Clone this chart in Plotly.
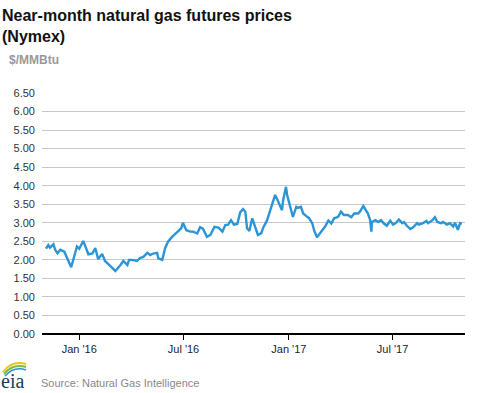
import plotly.graph_objects as go

dates = [
    "2015-11-04", "2015-11-08", "2015-11-11", "2015-11-15", "2015-11-17", "2015-11-20",
    "2015-11-24", "2015-11-29", "2015-12-06", "2015-12-18", "2015-12-28", "2016-01-01",
    "2016-01-08", "2016-01-17", "2016-01-24", "2016-01-29", "2016-02-03", "2016-02-10",
    "2016-02-15", "2016-02-24", "2016-03-04", "2016-03-13", "2016-03-18", "2016-03-25",
    "2016-03-28", "2016-04-02", "2016-04-11", "2016-04-16", "2016-04-22", "2016-04-29",
    "2016-05-04", "2016-05-09", "2016-05-16", "2016-05-18", "2016-05-25", "2016-05-30",
    "2016-06-04", "2016-06-11", "2016-06-17", "2016-06-22", "2016-06-27", "2016-06-30",
    "2016-07-06", "2016-07-13", "2016-07-18", "2016-07-25", "2016-07-30", "2016-08-04",
    "2016-08-11", "2016-08-17", "2016-08-24", "2016-08-31", "2016-09-07", "2016-09-12",
    "2016-09-17", "2016-09-22", "2016-09-27", "2016-10-03", "2016-10-08", "2016-10-13",
    "2016-10-17", "2016-10-20", "2016-10-24", "2016-10-29", "2016-10-31", "2016-11-05",
    "2016-11-08", "2016-11-14", "2016-11-17", "2016-11-24", "2016-11-29", "2016-12-05",
    "2016-12-08", "2016-12-12", "2016-12-15", "2016-12-20", "2016-12-22", "2016-12-27",
    "2016-12-29", "2017-01-03", "2017-01-08", "2017-01-14", "2017-01-17", "2017-01-22",
    "2017-01-26", "2017-02-02", "2017-02-05", "2017-02-11", "2017-02-14", "2017-02-19",
    "2017-02-23", "2017-02-28", "2017-03-05", "2017-03-11", "2017-03-16", "2017-03-21",
    "2017-03-28", "2017-04-02", "2017-04-07", "2017-04-14", "2017-04-20", "2017-04-25",
    "2017-05-02", "2017-05-05", "2017-05-11", "2017-05-16", "2017-05-19", "2017-05-23",
    "2017-05-25", "2017-05-26", "2017-06-01", "2017-06-06", "2017-06-11", "2017-06-16",
    "2017-06-21", "2017-06-27", "2017-07-02", "2017-07-07", "2017-07-12", "2017-07-18",
    "2017-07-21", "2017-07-26", "2017-08-01", "2017-08-06", "2017-08-13", "2017-08-16",
    "2017-08-23", "2017-08-29", "2017-09-01", "2017-09-08", "2017-09-13", "2017-09-17",
    "2017-09-24", "2017-09-27", "2017-10-04", "2017-10-09", "2017-10-15", "2017-10-18",
    "2017-10-22", "2017-10-23", "2017-10-27", "2017-10-30",
]
prices = [
    2.30, 2.40, 2.33, 2.40, 2.42, 2.27,
    2.18, 2.27, 2.22, 1.80, 2.36, 2.30,
    2.51, 2.15, 2.17, 2.32, 2.02, 2.16,
    1.97, 1.84, 1.70, 1.86, 1.97, 1.86,
    2.00, 2.00, 1.97, 2.05, 2.08, 2.19,
    2.13, 2.17, 2.19, 2.04, 2.00, 2.32,
    2.49, 2.62, 2.71, 2.78, 2.85, 3.00,
    2.80, 2.76, 2.76, 2.71, 2.88, 2.84,
    2.62, 2.67, 2.89, 2.87, 2.76, 2.94,
    2.95, 3.07, 2.95, 2.97, 3.28, 3.37,
    3.30, 2.85, 2.78, 3.12, 3.03, 2.77,
    2.67, 2.72, 2.86, 3.07, 3.30, 3.57,
    3.75, 3.62, 3.50, 3.34, 3.61, 3.97,
    3.75, 3.48, 3.16, 3.43, 3.40, 3.43,
    3.25, 3.16, 3.13, 2.98, 2.80, 2.61,
    2.68, 2.79, 2.89, 3.06, 2.98, 3.12,
    3.16, 3.30, 3.21, 3.21, 3.15, 3.25,
    3.25, 3.30, 3.45, 3.30, 3.25, 3.07,
    2.76, 3.02, 3.07, 3.02, 3.07, 2.98,
    2.92, 3.06, 2.95, 3.00, 3.09, 2.99,
    3.02, 2.92, 2.83, 2.88, 2.99, 2.95,
    2.99, 3.05, 2.99, 3.06, 3.15, 3.02,
    2.99, 3.02, 2.95, 2.99, 2.90, 3.00,
    2.88, 2.81, 2.99, 2.97,
]

x_tick_vals = ["2016-01-01", "2016-07-01", "2017-01-01", "2017-07-01"]
x_tick_text = ["Jan '16", "Jul '16", "Jan '17", "Jul '17"]
y_tick_vals = [0.0, 0.5, 1.0, 1.5, 2.0, 2.5, 3.0, 3.5, 4.0, 4.5, 5.0, 5.5, 6.0, 6.5]
y_tick_text = [f"{v:.2f}" for v in y_tick_vals]

title_text = "Near-month natural gas futures prices<br>(Nymex)"
unit_text = "$/MMBtu"
source_text = "Source: Natural Gas Intelligence"

fig = go.Figure()
fig.add_trace(go.Scatter(
    x=dates, y=prices, mode="lines",
    line=dict(color="#2b95d6", width=2.4),
    hoverinfo="x+y", showlegend=False,
))

fig.update_layout(
    width=477, height=393,
    margin=dict(l=42, r=12, t=93, b=59),
    paper_bgcolor="white", plot_bgcolor="white",
    font=dict(family="Liberation Sans, Arial, sans-serif", color="#333333", size=11),
    xaxis=dict(
        type="date",
        range=["2015-10-28", "2017-11-04 12:00"],
        tickvals=x_tick_vals, ticktext=x_tick_text,
        ticks="outside", ticklen=5, tickwidth=1, tickcolor="#000000",
        showgrid=False, showline=False, zeroline=False,
        tickfont=dict(size=11, color="#222233"),
    ),
    yaxis=dict(
        range=[0, 6.5],
        tickvals=y_tick_vals, ticktext=y_tick_text,
        showgrid=True, gridcolor="#c8c8c8", gridwidth=1,
        zeroline=True, zerolinecolor="#000000", zerolinewidth=1.5,
        showline=False, ticks="", ticklabelstandoff=6,
        tickfont=dict(size=11, color="#333333"),
    ),
    annotations=[
        dict(text=f"<b>{title_text}</b>", xref="paper", yref="paper",
             x=-42/423, y=1 + 88/241, xanchor="left", yanchor="top",
             showarrow=False, align="left",
             font=dict(size=16, color="#111111", family="Liberation Sans, Arial, sans-serif")),
        dict(text=f"<b>{unit_text}</b>", xref="paper", yref="paper",
             x=-35/423, y=1 + 33/241, xanchor="left", yanchor="middle",
             showarrow=False,
             font=dict(size=12, color="#999999", family="Liberation Sans, Arial, sans-serif")),
        dict(text=source_text, xref="paper", yref="paper",
             x=-3/423, y=-49/241, xanchor="left", yanchor="middle",
             showarrow=False,
             font=dict(size=11, color="#888888", family="Liberation Sans, Arial, sans-serif")),
        dict(text="eia", xref="paper", yref="paper",
             x=-43/423, y=-47/241, xanchor="left", yanchor="middle",
             showarrow=False,
             font=dict(size=20, color="#1c3a5e", family="Liberation Serif, DejaVu Serif, serif")),
    ],
    shapes=[
        dict(type="path", xref="paper", yref="paper",
             path=f"M {-39/423} {-38/241} Q {-30/423} {-26/241} {-16/423} {-30/241}",
             line=dict(color="#f2c418", width=2)),
        dict(type="path", xref="paper", yref="paper",
             path=f"M {-38/423} {-40/241} Q {-29/423} {-29/241} {-16/423} {-33/241}",
             line=dict(color="#7dbb3f", width=2)),
        dict(type="path", xref="paper", yref="paper",
             path=f"M {-37/423} {-42/241} Q {-28/423} {-32/241} {-16/423} {-36/241}",
             line=dict(color="#2b95d6", width=1.5)),
    ],
)

fig.write_html(
    "out.html",
    config={"displayModeBar": False},
    post_script="document.body.style.margin='0';document.body.style.overflow='hidden';",
)
